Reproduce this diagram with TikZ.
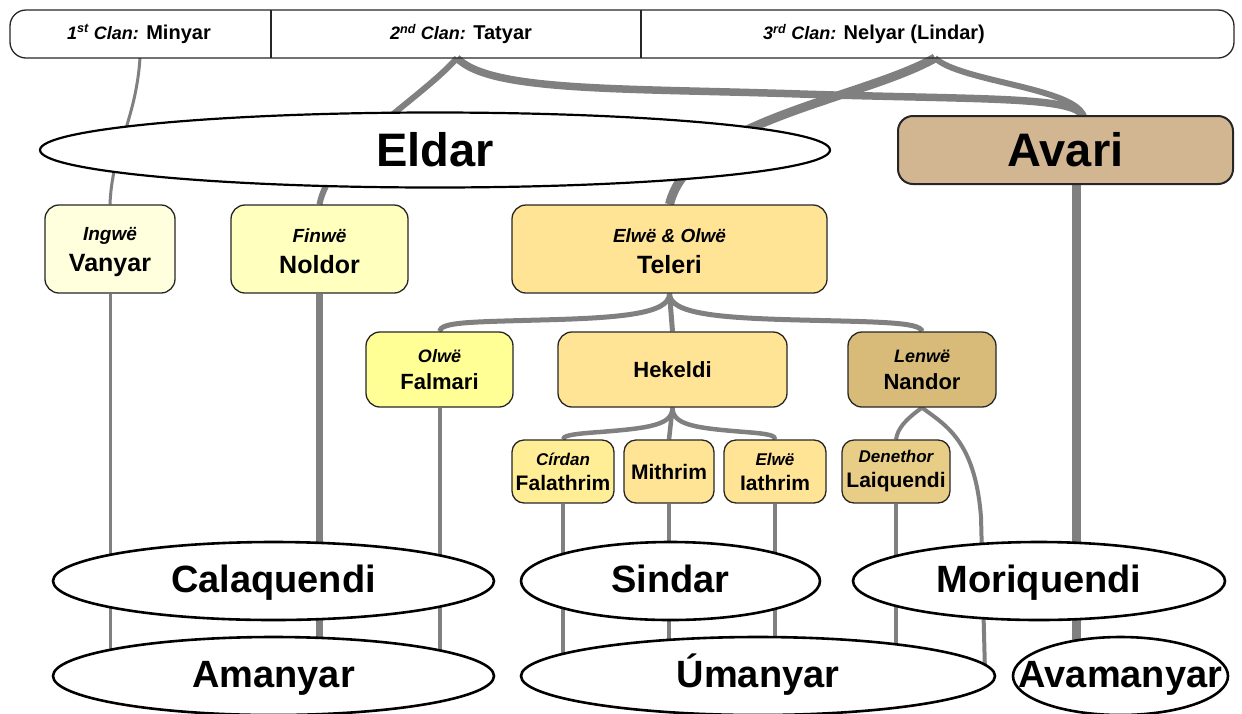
\documentclass[tikz,border=0pt]{standalone}
\usepackage{fontspec}
\setmainfont{Liberation Sans}
\usetikzlibrary{shapes.geometric,backgrounds}
\definecolor{linegray}{RGB}{128,128,128}
\definecolor{vanyarfill}{RGB}{255,255,222}
\definecolor{noldorfill}{RGB}{255,255,190}
\definecolor{telerifill}{RGB}{255,228,150}
\definecolor{falmarifill}{RGB}{255,255,150}
\definecolor{falathfill}{RGB}{255,238,150}
\definecolor{nandorfill}{RGB}{217,187,121}
\definecolor{laiqfill}{RGB}{232,205,135}
\definecolor{avarifill}{RGB}{210,182,146}
\newcommand{\toppush}{\rule{0pt}{19pt}}
\begin{document}
\begin{tikzpicture}[x=1pt,y=-1pt,
  box/.style={draw=black!85, line width=1.3pt, rounded corners=14pt, align=center, inner sep=0pt,
    font=\bfseries\fontsize{25}{31}\selectfont},
  midbox/.style={box, font=\bfseries\fontsize{22}{27}\selectfont},
  smallbox/.style={box, rounded corners=12pt, font=\bfseries\fontsize{21}{25}\selectfont},
  ell/.style={ellipse, draw=black, line width=2.6pt, fill=white, inner sep=0pt,
    font=\bfseries\fontsize{38}{40}\selectfont},
  lowell/.style={ell, text height=28pt, text depth=6pt},
  con/.style={draw=linegray, line width=#1},
  con/.default=4pt,
  clanlbl/.style={font=\bfseries\fontsize{20}{22}\selectfont},
]
\useasboundingbox (0,0) rectangle (1242,713);

% top band
\node[draw=black!85, line width=1.3pt, rounded corners=16pt, minimum width=1224pt, minimum height=48pt, inner sep=0pt] (band) at (622,34) {};
\draw[black!85, line width=1.2pt] (271,10) -- (271,58);
\draw[black!85, line width=1.2pt] (641,10) -- (641,58);
\node[clanlbl] (c1) at (139,34) {{\itshape\fontsize{18}{22}\selectfont 1\textsuperscript{st} Clan:} Minyar};
\node[clanlbl] (c2) at (461,34) {{\itshape\fontsize{18}{22}\selectfont 2\textsuperscript{nd} Clan:} Tatyar};
\node[clanlbl] (c3) at (874,34) {{\itshape\fontsize{18}{22}\selectfont 3\textsuperscript{rd} Clan:} Nelyar (Lindar)};
\coordinate (out1) at (140,58);
\coordinate (out2) at (457,58);
\coordinate (out3) at (935,58);

% main groups
\node[ell, minimum width=790pt, minimum height=75pt, line width=2.2pt, font=\bfseries\fontsize{47}{50}\selectfont] (eldar) at (435,150) {Eldar};
\node[box, fill=avarifill, minimum width=335pt, minimum height=68pt, rounded corners=15pt, line width=2pt, font=\bfseries\fontsize{47}{50}\selectfont] (avari) at (1065.5,150) {Avari};

% kindreds
\node[box, fill=vanyarfill, minimum width=130pt, minimum height=88pt] (vanyar) at (110,249) {{\itshape\fontsize{19}{22}\selectfont\toppush Ingwë}\\Vanyar};
\node[box, fill=noldorfill, minimum width=177pt, minimum height=88pt] (noldor) at (319.5,249) {{\itshape\fontsize{19}{22}\selectfont\toppush Finwë}\\Noldor};
\node[box, fill=telerifill, minimum width=315pt, minimum height=88pt] (teleri) at (669.5,249) {{\itshape\fontsize{19}{22}\selectfont\toppush Elwë \& Olwë}\\Teleri};

\node[midbox, fill=falmarifill, minimum width=147pt, minimum height=75pt] (falmari) at (439.5,369.5) {{\itshape\fontsize{18}{22}\selectfont Olwë}\\Falmari};
\node[midbox, fill=telerifill, minimum width=229pt, minimum height=75pt] (hekeldi) at (672.5,369.5) {Hekeldi};
\node[midbox, fill=nandorfill, minimum width=148pt, minimum height=75pt] (nandor) at (922,369.5) {{\itshape\fontsize{18}{22}\selectfont Lenwë}\\Nandor};

\node[smallbox, fill=falathfill, minimum width=102pt, minimum height=63pt] (falath) at (563,471.5) {{\itshape\fontsize{17}{20}\selectfont Círdan}\\Falathrim};
\node[smallbox, fill=telerifill, minimum width=90pt, minimum height=63pt] (mithrim) at (669,471.5) {Mithrim};
\node[smallbox, fill=telerifill, minimum width=102pt, minimum height=63pt] (iathrim) at (775,471.5) {{\itshape\fontsize{17}{20}\selectfont Elwë}\\Iathrim};
\node[smallbox, fill=laiqfill, minimum width=108pt, minimum height=63pt] (laiq) at (896,471.5) {{\itshape\fontsize{17}{20}\selectfont Denethor}\\Laiquendi};

% bottom ellipses
\node[lowell, minimum width=441pt, minimum height=78pt] (calaq) at (273.5,581) {Calaquendi};
\node[lowell, minimum width=299pt, minimum height=78pt] (sindar) at (670.5,581) {Sindar};
\node[lowell, minimum width=372pt, minimum height=78pt] (moriq) at (1039,581) {Moriquendi};
\node[lowell, minimum width=441pt, minimum height=78pt] (amanyar) at (273.5,676) {Amanyar};
\node[lowell, minimum width=474pt, minimum height=78pt] (umanyar) at (758,676) {Úmanyar};
\node[lowell, minimum width=215pt, minimum height=78pt] (avam) at (1120.5,676) {\makebox[0pt]{Avamanyar}};

\coordinate (nandorfork) at (981,517);

\begin{scope}[on background layer]
% Minyar -> Vanyar
\draw[con=3pt] (out1) .. controls (136,120) and (112,150) .. (vanyar.north);
% Tatyar
\draw[con=6pt] (out2) .. controls (420,100) and (330,150) .. (noldor.north);
\draw[con=7.5pt] (out2) .. controls (490,92) and (620,88) .. (800,94) .. controls (990,100) and (1078,96) .. (1084,118);
% Nelyar
\draw[con=9pt] (out3) .. controls (860,100) and (690,120) .. (teleri.north);
\draw[con=6pt] (out3) .. controls (960,82) and (1080,88) .. (1084,118);
% Avari -> Avamanyar
\draw[con=9pt] (1076,184) -- (1076,660);
% verticals
\draw[con=3pt] (vanyar.south) -- (110,660);
\draw[con=7pt] (noldor.south) -- (319.5,660);
\draw[con=4pt] (falmari.south) -- (439.5,660);
\draw[con=3.5pt] (falath.south) -- (563,670);
\draw[con=3.5pt] (mithrim.south) -- (669,660);
\draw[con=3.5pt] (iathrim.south) -- (775,660);
\draw[con=3.5pt] (laiq.south) -- (896,665);
% Teleri branches
\draw[con=5pt] (teleri.south) -- (hekeldi.north);
\draw[con=5pt] (teleri.south) .. controls (669.5,314) and (620,318) .. (540,320) .. controls (470,322) and (441,322) .. (falmari.north);
\draw[con=5pt] (teleri.south) .. controls (669.5,314) and (720,318) .. (800,320) .. controls (880,322) and (920,322) .. (nandor.north);
% Hekeldi branches
\draw[con=4.5pt] (hekeldi.south) -- (mithrim.north);
\draw[con=4.5pt] (hekeldi.south) .. controls (672.5,425) and (650,428) .. (600,432) .. controls (570,434) and (563,436) .. (falath.north);
\draw[con=4.5pt] (hekeldi.south) .. controls (672.5,425) and (695,428) .. (745,432) .. controls (772,434) and (775,436) .. (iathrim.north);
% Nandor branches
\draw[con=4pt] (nandor.south) .. controls (905,420) and (898,428) .. (laiq.north);
\draw[con=4pt] (nandor.south) .. controls (945,425) and (975,440) .. (nandorfork) -- (985,672);
\end{scope}
\end{tikzpicture}
\end{document}
